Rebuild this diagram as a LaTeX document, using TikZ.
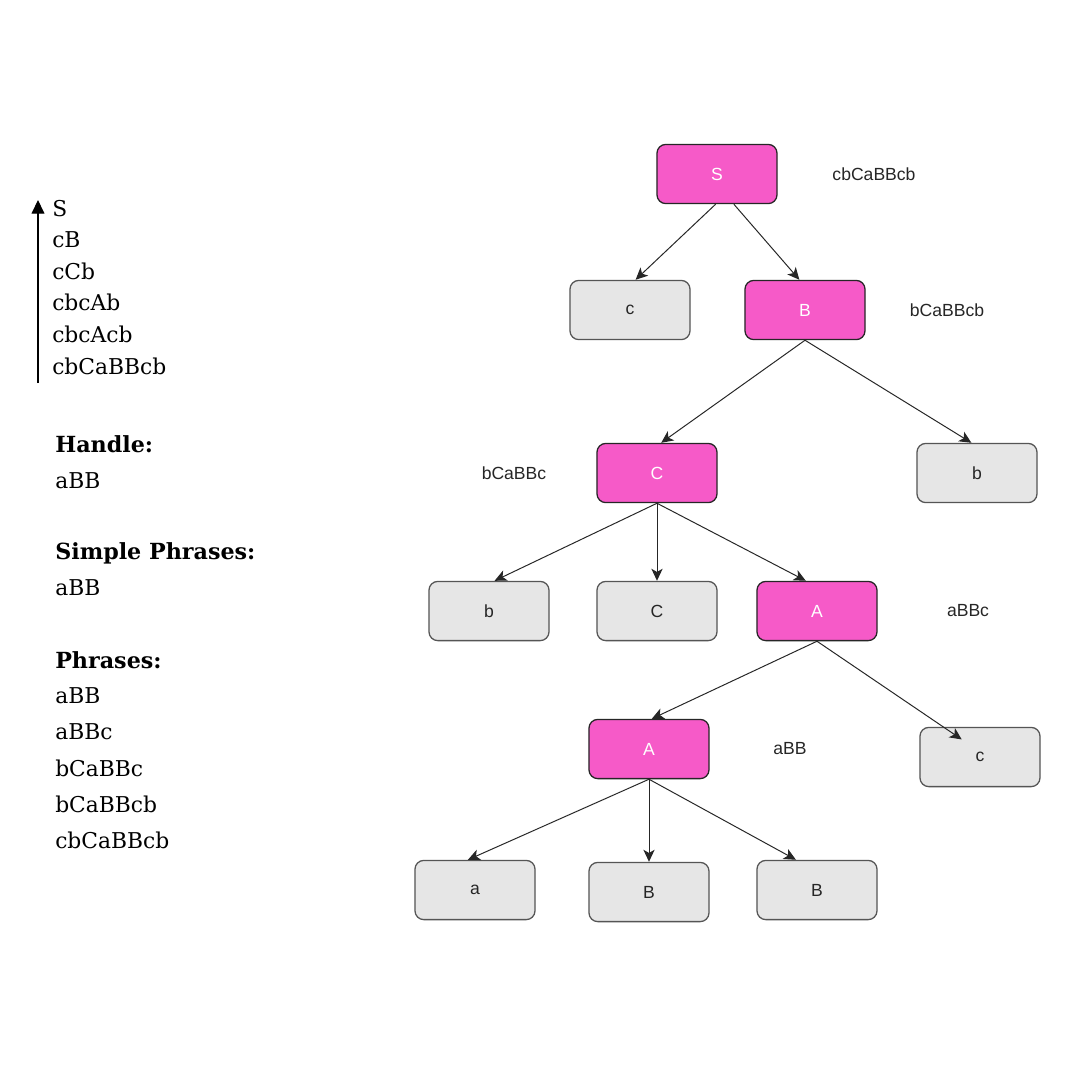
\documentclass[tikz,border=0pt]{standalone}
\usepackage{fontspec}
\setmainfont{DejaVu Serif}
\newfontfamily\labelfont{Liberation Sans}
\usetikzlibrary{arrows.meta}
\definecolor{pinkfill}{HTML}{F65AC8}
\definecolor{greyfill}{HTML}{E6E6E6}
\definecolor{greyline}{HTML}{555555}
\tikzset{
  box/.style={rounded corners=2.2mm, minimum width=3cm, minimum height=1.48cm, inner sep=0pt, line width=0.9pt, font=\labelfont\fontsize{12.5}{14}\selectfont},
  hot/.style={box, draw=black!85, fill=pinkfill, text=white},
  plain/.style={box, draw=greyline, fill=greyfill, text=black!85},
  edge/.style={line width=0.7pt, draw=black!85, -{Stealth[length=3mm,width=2.8mm,inset=0.8mm]}},
  side/.style={font=\labelfont\fontsize{12.5}{14}\selectfont, text=black!85, inner sep=0pt},
  lst/.style={font=\fontsize{15.5}{18}\selectfont, anchor=west, inner sep=0pt},
  hdr/.style={font=\bfseries\fontsize{15.8}{18}\selectfont, anchor=west, inner sep=0pt}
}
\begin{document}
\begin{tikzpicture}[x=0.025cm, y=-0.025cm]
\useasboundingbox[fill=white] (0,0) rectangle (1080,1080);

% left lists
\coordinate (ab) at (38,383);
\coordinate (at) at (38,200);
\draw[line width=0.8pt, -{Triangle[length=3.4mm,width=3.2mm]}] (ab) -- (at);
\node[lst] (l1) at (52,209) {S};
\node[lst] (l2) at (52,240) {cB};
\node[lst] (l3) at (52,271) {cCb};
\node[lst] (l4) at (52,302) {cbcAb};
\node[lst] (l5) at (52,334) {cbcAcb};
\node[lst] (l6) at (52,366) {cbCaBBcb};

\node[hdr] (h1) at (55,444) {Handle:};
\node[lst] (h1a) at (55,481) {aBB};
\node[hdr] (h2) at (55,553) {Simple Phrases:};
\node[lst] (h2a) at (55,588) {aBB};
\node[hdr] (h3) at (55,660) {Phrases:};
\node[lst] (p1) at (55,696) {aBB};
\node[lst] (p2) at (55,732) {aBBc};
\node[lst] (p3) at (55,768) {bCaBBc};
\node[lst] (p4) at (55,804) {bCaBBcb};
\node[lst] (p5) at (55,840) {cbCaBBcb};

% tree nodes
\node[hot] (S) at (717,174) {S};
\node[plain] (c1) at (630,310) {c};
\node[hot] (B) at (805,310) {B};
\node[hot] (C) at (657,473) {C};
\node[plain] (b1) at (977,473) {b};
\node[plain] (b2) at (489,611) {b};
\node[plain] (C2) at (657,611) {C};
\node[hot] (A1) at (817,611) {A};
\node[hot] (A2) at (649,749) {A};
\node[plain] (c2) at (980,757) {c};
\node[plain] (a) at (475,890) {a};
\node[plain] (B2) at (649,892) {B};
\node[plain] (B3) at (817,890) {B};

% side labels
\node[side] (t1) at (874,174) {cbCaBBcb};
\node[side] (t2) at (947,310) {bCaBBcb};
\node[side] (t3) at (514,473) {bCaBBc};
\node[side] (t4) at (968,611) {aBBc};
\node[side] (t5) at (790,749) {aBB};

% edges
\draw[edge] ([xshift=-1]S.south) -- ([xshift=4]c1.north);
\draw[edge] ([xshift=12]S.south) -- ([xshift=-4]B.north);
\draw[edge] (B.south) -- ([xshift=3]C.north);
\draw[edge] (B.south) -- ([xshift=-4]b1.north);
\draw[edge] (C.south) -- ([xshift=4]b2.north);
\draw[edge] (C.south) -- (C2.north);
\draw[edge] (C.south) -- ([xshift=-8]A1.north);
\draw[edge] (A1.south) -- ([xshift=2]A2.north);
\draw[edge] (A1.south) -- ([xshift=-13,yshift=-9]c2.north);
\draw[edge] (A2.south) -- ([xshift=-5]a.north);
\draw[edge] (A2.south) -- (B2.north);
\draw[edge] (A2.south) -- ([xshift=-15]B3.north);
\end{tikzpicture}
\end{document}
